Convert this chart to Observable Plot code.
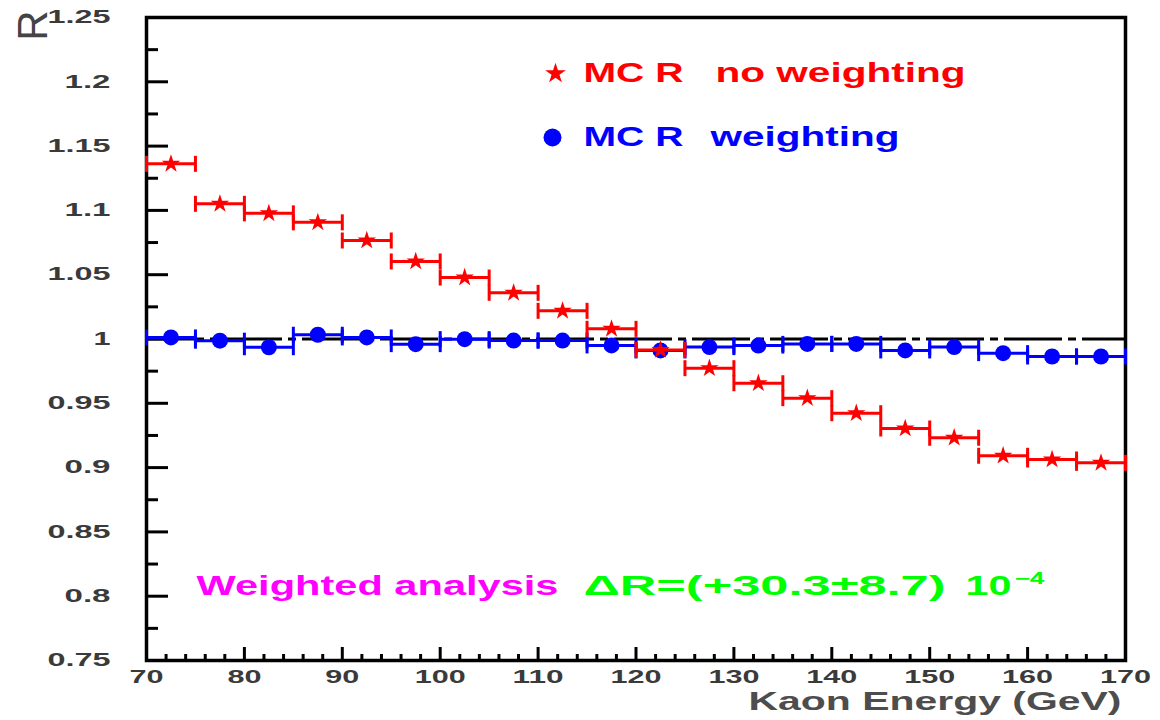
<!DOCTYPE html>
<html>
<head>
<meta charset="utf-8">
<script src="https://cdn.jsdelivr.net/npm/d3@7"></script>
<script src="https://cdn.jsdelivr.net/npm/@observablehq/plot@0.6"></script>
<style>
  html, body { margin: 0; padding: 0; background: #fff; }
  #chart svg { display: block; background: #fff; }
</style>
</head>
<body>
<div id="chart"></div>
<script>
// Kaon energy bins (GeV)
const binLow  = [70, 75, 80, 85, 90, 95, 100, 105, 110, 115, 120, 125, 130, 135, 140, 145, 150, 155, 160, 165];
const binHigh = [75, 80, 85, 90, 95, 100, 105, 110, 115, 120, 125, 130, 135, 140, 145, 150, 155, 160, 165, 170];
const binCenter = [72.5, 77.5, 82.5, 87.5, 92.5, 97.5, 102.5, 107.5, 112.5, 117.5,
                   122.5, 127.5, 132.5, 137.5, 142.5, 147.5, 152.5, 157.5, 162.5, 167.5];

// MC double ratio R without and with the energy weighting
const rNoWeighting = [1.1362, 1.1051, 1.0977, 1.0907, 1.0766, 1.0603, 1.0478, 1.0359, 1.0219, 1.0079,
                      0.9915, 0.9773, 0.9656, 0.9540, 0.9423, 0.9304, 0.9232, 0.9092, 0.9063, 0.9037];
const rWeighting   = [1.0012, 0.9987, 0.9936, 1.0033, 1.0012, 0.9960, 0.9999, 0.9988, 0.9988, 0.9950,
                      0.9911, 0.9937, 0.9949, 0.9962, 0.9962, 0.9911, 0.9937, 0.9890, 0.9864, 0.9864];

// Axis ticks and labels
const yMajorTicks = [0.75, 0.8, 0.85, 0.9, 0.95, 1, 1.05, 1.1, 1.15, 1.2, 1.25];
const yTickLabels = ["0.75", "0.8", "0.85", "0.9", "0.95", "1", "1.05", "1.1", "1.15", "1.2", "1.25"];
const yMinorTicks = [0.775, 0.825, 0.875, 0.925, 0.975, 1.025, 1.075, 1.125, 1.175, 1.225];
const xMajorTicks = [70, 80, 90, 100, 110, 120, 130, 140, 150, 160, 170];
const xTickLabels = ["70", "80", "90", "100", "110", "120", "130", "140", "150", "160", "170"];
const xMinorTicks = [72, 74, 76, 78, 82, 84, 86, 88, 92, 94, 96, 98, 102, 104, 106, 108,
                     112, 114, 116, 118, 122, 124, 126, 128, 132, 134, 136, 138, 142, 144, 146, 148,
                     152, 154, 156, 158, 162, 164, 166, 168];

// Reference level and texts
const unitLevel = [1];
const legendLabels = ["MC R", "no weighting", "MC R", "weighting"];
const xTitle = "Kaon Energy (GeV)";
const yTitle = "R";
const noteLabel = "Weighted analysis";
const noteValue = "\u0394R=(+30.3\u00b18.7)";
const notePower = "10";
const noteExponent = "\u22124";

// Tables built from the arrays above
const unweighted = binCenter.map((x, i) => ({x, lo: binLow[i], hi: binHigh[i], r: rNoWeighting[i]}));
const weighted   = binCenter.map((x, i) => ({x, lo: binLow[i], hi: binHigh[i], r: rWeighting[i]}));
const capsOf = rows => rows.flatMap(d => [{x: d.lo, r: d.r}, {x: d.hi, r: d.r}]);

const W = 1160, H = 720;
const margin = {top: 17, right: 35, bottom: 60, left: 146};
const innerW = W - margin.left - margin.right;
const innerH = H - margin.top - margin.bottom;

const RED = "#ff0000", BLUE = "#0000ff", MAGENTA = "#ff00ff", GREEN = "#00ff00";
const FONT = "Liberation Sans, Arial, Helvetica, sans-serif";
const TICK_FILL = "#3a3a3a";

// vertical bar used for the error-bar end caps
const capSymbol = {
  draw(context, size) {
    const h = Math.sqrt(size / Math.PI);
    context.moveTo(0, -h);
    context.lineTo(0, h);
  }
};

const chart = Plot.plot({
  width: W,
  height: H,
  marginTop: margin.top,
  marginRight: margin.right,
  marginBottom: margin.bottom,
  marginLeft: margin.left,
  style: {background: "#fff", fontFamily: FONT},
  x: {domain: [70, 170], axis: null},
  y: {domain: [0.75, 1.25], axis: null},
  marks: [
    // inward ticks
    Plot.ruleY(yMajorTicks, {y: d => d, stroke: "black", strokeWidth: 3, insetRight: innerW - 22}),
    Plot.ruleY(yMinorTicks, {y: d => d, stroke: "black", strokeWidth: 3, insetRight: innerW - 12}),
    Plot.ruleX(xMajorTicks, {x: d => d, stroke: "black", strokeWidth: 3, insetTop: innerH - 13}),
    Plot.ruleX(xMinorTicks, {x: d => d, stroke: "black", strokeWidth: 3, insetTop: innerH - 6}),

    // tick labels
    Plot.text(yMajorTicks, {
      y: d => d, text: (d, i) => yTickLabels[i], frameAnchor: "left", textAnchor: "end",
      dx: -36, fontSize: 18, fontWeight: "bold", fill: TICK_FILL, ariaDescription: "ytick-labels"
    }),
    Plot.text(xMajorTicks, {
      x: d => d, text: (d, i) => xTickLabels[i], frameAnchor: "bottom", lineAnchor: "middle",
      dy: 17, fontSize: 18, fontWeight: "bold", fill: TICK_FILL, ariaDescription: "xtick-labels"
    }),

    // axis titles
    Plot.text([xTitle], {
      text: d => d, frameAnchor: "bottom-right", textAnchor: "end", lineAnchor: "middle",
      dx: -4, dy: 41, fontSize: 25, fontWeight: "bold", fill: "#4d4d4d", ariaDescription: "x-title"
    }),
    Plot.text([yTitle], {
      text: d => d, frameAnchor: "top-left", rotate: -90, textAnchor: "middle", lineAnchor: "middle",
      dx: -113, dy: 8, fontSize: 42, fill: "#444"
    }),

    // frame
    Plot.frame({stroke: "black", strokeWidth: 3.5}),

    // R = 1 reference line
    Plot.ruleY(unitLevel, {y: d => d, stroke: "black", strokeWidth: 3, strokeDasharray: "58,6,8,6"}),

    // weighted MC (blue)
    Plot.ruleY(weighted, {y: "r", x1: "lo", x2: "hi", stroke: BLUE, strokeWidth: 3}),
    Plot.dot(capsOf(weighted), {x: "x", y: "r", symbol: capSymbol, r: 8, stroke: BLUE, strokeWidth: 3, fill: "none"}),
    Plot.dot(weighted, {x: "x", y: "r", symbol: "circle", r: 8, fill: BLUE, stroke: "none"}),

    // unweighted MC (red)
    Plot.ruleY(unweighted, {y: "r", x1: "lo", x2: "hi", stroke: RED, strokeWidth: 3}),
    Plot.dot(capsOf(unweighted), {x: "x", y: "r", symbol: capSymbol, r: 8, stroke: RED, strokeWidth: 3, fill: "none"}),
    Plot.dot(unweighted, {x: "x", y: "r", symbol: "star", r: 5.8, fill: RED, stroke: "none"}),

    // legend
    Plot.dot([0], {frameAnchor: "top-left", dx: 409, dy: 56, symbol: "star", r: 6.5, fill: RED, stroke: "none"}),
    Plot.dot([0], {frameAnchor: "top-left", dx: 406, dy: 120, symbol: "circle", r: 9, fill: BLUE, stroke: "none"}),
    Plot.text([legendLabels[0]], {text: d => d, frameAnchor: "top-left", textAnchor: "start", lineAnchor: "middle",
      dx: 437, dy: 56, fontSize: 28, fontWeight: "bold", fill: RED, ariaDescription: "leg-mc"}),
    Plot.text([legendLabels[1]], {text: d => d, frameAnchor: "top-left", textAnchor: "start", lineAnchor: "middle",
      dx: 569, dy: 56, fontSize: 28, fontWeight: "bold", fill: RED, ariaDescription: "leg-noweight"}),
    Plot.text([legendLabels[2]], {text: d => d, frameAnchor: "top-left", textAnchor: "start", lineAnchor: "middle",
      dx: 437, dy: 120, fontSize: 28, fontWeight: "bold", fill: BLUE, ariaDescription: "leg-mc"}),
    Plot.text([legendLabels[3]], {text: d => d, frameAnchor: "top-left", textAnchor: "start", lineAnchor: "middle",
      dx: 564, dy: 120, fontSize: 28, fontWeight: "bold", fill: BLUE, ariaDescription: "leg-weight"}),

    // analysis result
    Plot.text([noteLabel], {text: d => d, frameAnchor: "top-left", textAnchor: "start", lineAnchor: "middle",
      dx: 50, dy: 569, fontSize: 28, fontWeight: "bold", fill: MAGENTA, ariaDescription: "note-label"}),
    Plot.text([noteValue], {text: d => d, frameAnchor: "top-left", textAnchor: "start", lineAnchor: "middle",
      dx: 437, dy: 569, fontSize: 28, fontWeight: "bold", fill: GREEN, ariaDescription: "note-value"}),
    Plot.text([notePower], {text: d => d, frameAnchor: "top-left", textAnchor: "start", lineAnchor: "middle",
      dx: 819, dy: 569, fontSize: 28, fontWeight: "bold", fill: GREEN, ariaDescription: "note-power"}),
    Plot.text([noteExponent], {text: d => d, frameAnchor: "top-left", textAnchor: "start", lineAnchor: "middle",
      dx: 868, dy: 561, fontSize: 16, fontWeight: "bold", fill: GREEN, ariaDescription: "note-exp"})
  ]
});

document.getElementById("chart").appendChild(chart);

// stretch the wide, blocky lettering to its drawn widths
const svg = chart.tagName.toLowerCase() === "svg" ? chart : chart.querySelector("svg");
function fit(desc, widthOf) {
  svg.querySelectorAll(`g[aria-description="${desc}"] text`).forEach(t => {
    t.setAttribute("textLength", widthOf(t.textContent));
    t.setAttribute("lengthAdjust", "spacingAndGlyphs");
  });
}
const numberWidth = s => [...s].reduce((w, c) => w + (c === "." ? 12 : 17), 0);
fit("ytick-labels", numberWidth);
fit("xtick-labels", numberWidth);
fit("x-title", () => 373);
fit("leg-mc", () => 100);
fit("leg-noweight", () => 250);
fit("leg-weight", () => 189);
fit("note-label", () => 362);
fit("note-value", () => 362);
fit("note-power", () => 46);
fit("note-exp", () => 30);
</script>
</body>
</html>
